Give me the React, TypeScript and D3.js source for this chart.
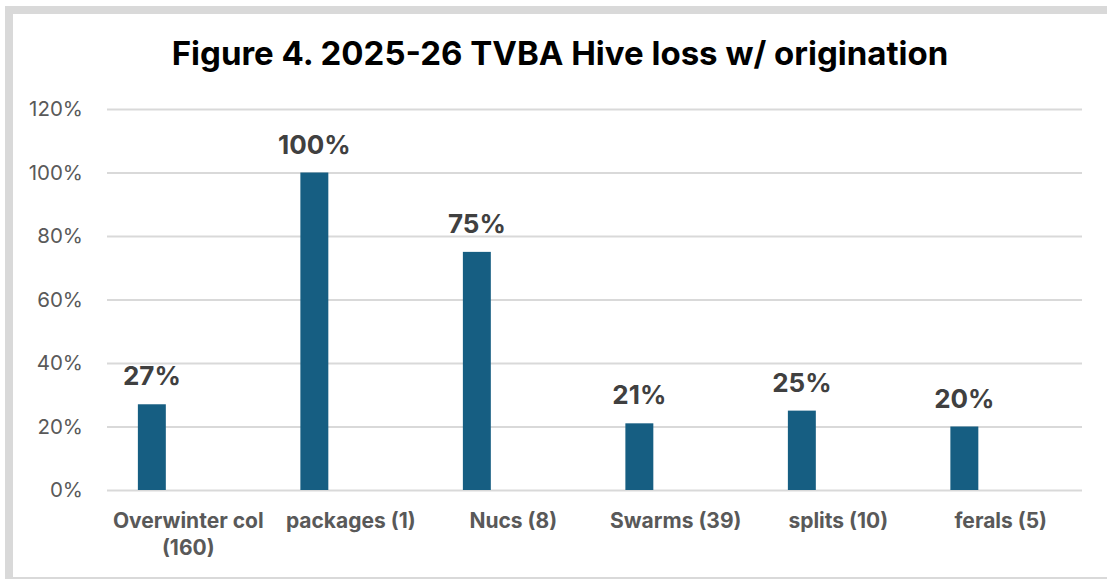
import React, { useEffect, useRef } from 'react';
import * as d3 from 'd3';

// chart data
const categories = ['Overwinter col (160)', 'packages (1)', 'Nucs (8)', 'Swarms (39)', 'splits (10)', 'ferals (5)'];
const lossRates = [0.27, 1.0, 0.75, 0.21, 0.25, 0.2];
const yTicks = [0, 0.2, 0.4, 0.6, 0.8, 1.0, 1.2];
const title = 'Figure 4. 2025-26 TVBA Hive loss w/ origination';

const W = 1107;
const H = 579;
const FONT = 'Inter, "Noto Sans", sans-serif';

const App = () => {
  const svgRef = useRef<SVGSVGElement>(null);

  useEffect(() => {
    const svg = d3.select(svgRef.current);
    svg.selectAll('*').remove();

    // frame
    svg.append('rect').attr('width', W).attr('height', H).attr('fill', '#fff');
    svg
      .append('rect')
      .attr('x', 9)
      .attr('y', 10)
      .attr('width', W + 20)
      .attr('height', 571)
      .attr('fill', 'none')
      .attr('stroke', '#d9d9d9')
      .attr('stroke-width', 8);

    // title
    svg
      .append('text')
      .attr('x', 560)
      .attr('y', 65)
      .attr('text-anchor', 'middle')
      .attr('font-family', FONT)
      .attr('font-weight', 700)
      .attr('font-size', 33)
      .attr('fill', '#000')
      .text(title);

    const x = d3.scaleBand<string>().domain(categories).range([107, 1082]).paddingInner(0).paddingOuter(0);
    const y = d3.scaleLinear().domain([0, 1.2]).range([490, 109]);

    // gridlines + y labels
    const yAxis = d3
      .axisLeft(y)
      .tickValues(yTicks)
      .tickSize(-(1082 - 107))
      .tickPadding(24)
      .tickFormat(d3.format('.0%'));
    const gy = svg.append('g').attr('transform', 'translate(107,0)').call(yAxis);
    gy.select('.domain').remove();
    gy.selectAll('.tick line').attr('stroke', '#d9d9d9').attr('stroke-width', 2);
    gy.selectAll('.tick text')
      .attr('font-family', FONT)
      .attr('font-size', 20.5)
      .attr('fill', '#595959');

    const bw = x.bandwidth();
    const barOff = bw * 0.19;
    const barW = bw * 0.172;

    // bars
    svg
      .append('g')
      .selectAll('rect')
      .data(lossRates)
      .enter()
      .append('rect')
      .attr('x', (d, i) => (x(categories[i]) as number) + barOff)
      .attr('y', d => y(d))
      .attr('width', barW)
      .attr('height', d => y(0) - y(d))
      .attr('fill', '#165e82');

    // data labels
    svg
      .append('g')
      .selectAll('text')
      .data(lossRates)
      .enter()
      .append('text')
      .attr('x', (d, i) => (x(categories[i]) as number) + barOff + barW / 2)
      .attr('y', d => y(d) - 19)
      .attr('text-anchor', 'middle')
      .attr('font-family', FONT)
      .attr('font-weight', 700)
      .attr('font-size', 26)
      .attr('fill', '#404040')
      .text(d => d3.format('.0%')(d));

    // category labels (wrapped)
    const xAxis = d3.axisBottom(x).tickSize(0).tickPadding(0);
    const gx = svg.append('g').attr('transform', 'translate(0,490)').call(xAxis);
    gx.select('.domain').remove();
    gx.selectAll<SVGTextElement, string>('.tick text').each(function (label) {
      const t = d3.select(this);
      t.text(null)
        .attr('y', 0)
        .attr('dy', null)
        .attr('font-family', FONT)
        .attr('font-weight', 700)
        .attr('font-size', 21)
        .attr('fill', '#595959');
      const words = label.split(' ');
      let line: string[] = [];
      let lineNo = 0;
      let ts = t.append('tspan').attr('x', 0).attr('y', 38);
      for (const w of words) {
        line.push(w);
        ts.text(line.join(' '));
        if ((ts.node() as SVGTSpanElement).getComputedTextLength() > bw - 4 && line.length > 1) {
          line.pop();
          ts.text(line.join(' '));
          line = [w];
          lineNo++;
          ts = t.append('tspan').attr('x', 0).attr('y', 38 + lineNo * 27).text(w);
        }
      }
    });
  }, []);

  return (
    <svg
      ref={svgRef}
      width={W}
      height={H}
      style={{ position: 'fixed', top: 0, left: 0, display: 'block' }}
    />
  );
};

export default App;
